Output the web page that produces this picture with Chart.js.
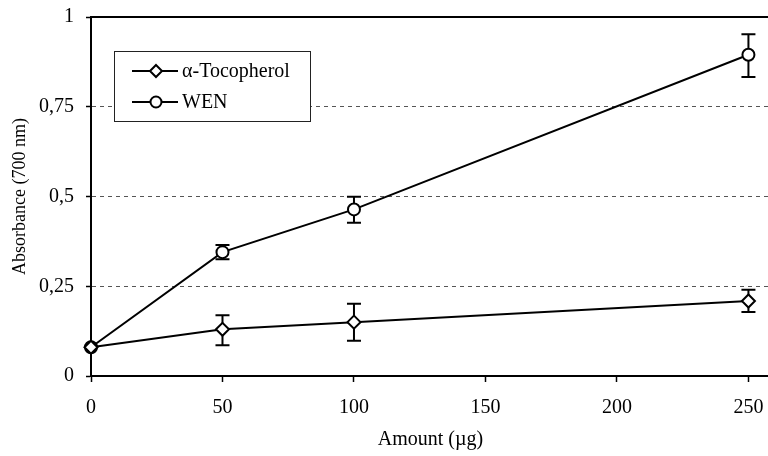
<!DOCTYPE html>
<html>
<head>
<meta charset="utf-8">
<script src="https://cdn.jsdelivr.net/npm/chart.js@4/dist/chart.umd.min.js"></script>
<style>
  body { margin: 0; background: #fff; overflow: hidden; }
  #wrap { width: 768px; height: 456px; overflow: hidden; }
</style>
</head>
<body>
<div id="wrap"><canvas id="myChart" width="790" height="456"></canvas></div>
<script>
// amounts in ug
var amounts = [0, 50, 100, 250];

var tocoMean = [0.08, 0.130, 0.150, 0.209];
var tocoLow  = [null, 0.086, 0.098, 0.178];
var tocoHigh = [null, 0.169, 0.201, 0.240];

var wenMean = [0.08, 0.345, 0.464, 0.895];
var wenLow  = [null, 0.325, 0.427, 0.833];
var wenHigh = [null, 0.365, 0.499, 0.952];

var xTicks = [0, 50, 100, 150, 200, 250];
var yTicks = [0, 0.25, 0.5, 0.75, 1];

var seriesNames = ['\u03b1-Tocopherol', 'WEN'];
var serif = 'Liberation Serif';

function toPoints(xs, ys, lo, hi) {
    var pts = [];
    for (var i in xs) {
        pts.push({ x: xs[i], y: ys[i], lo: lo[i], hi: hi[i] });
    }
    return pts;
}

// error bars, drawn under the markers
var errorBars = {
    id: 'errorBars',
    beforeDatasetsDraw: function(chart) {
        var ctx = chart.ctx;
        var xs = chart.scales.x, ys = chart.scales.y;
        ctx.save();
        ctx.strokeStyle = '#000';
        ctx.lineWidth = 2;
        chart.data.datasets.forEach(function(ds) {
            ds.data.forEach(function(p) {
                if (p.lo == null) return;
                var px = xs.getPixelForValue(p.x);
                var top = ys.getPixelForValue(p.hi);
                var bot = ys.getPixelForValue(p.lo);
                ctx.beginPath();
                ctx.moveTo(px, top); ctx.lineTo(px, bot);
                ctx.moveTo(px - 7, top); ctx.lineTo(px + 7, top);
                ctx.moveTo(px - 7, bot); ctx.lineTo(px + 7, bot);
                ctx.stroke();
            });
        });
        ctx.restore();
    }
};

// top/right frame and the boxed legend inside the plot
var frameAndLegend = {
    id: 'frameAndLegend',
    beforeDatasetsDraw: function(chart) {
        var ctx = chart.ctx;
        var a = chart.chartArea;
        ctx.save();
        ctx.strokeStyle = '#000';
        ctx.lineWidth = 2;
        ctx.beginPath();
        ctx.moveTo(a.left, a.top); ctx.lineTo(a.right, a.top); ctx.lineTo(a.right, a.bottom);
        ctx.stroke();
        ctx.restore();
    },
    afterDraw: function(chart) {
        var ctx = chart.ctx;
        ctx.save();
        // legend box
        ctx.fillStyle = '#fff';
        ctx.fillRect(114, 51, 197, 71);
        ctx.lineWidth = 1;
        ctx.strokeStyle = '#222';
        ctx.strokeRect(114.5, 51.5, 196, 70);

        var rows = [71, 102];
        chart.data.datasets.forEach(function(ds, i) {
            var y = rows[i];
            ctx.strokeStyle = '#000';
            ctx.lineWidth = 2;
            ctx.beginPath();
            ctx.moveTo(132, y); ctx.lineTo(178, y);
            ctx.stroke();
            ctx.fillStyle = '#fff';
            ctx.beginPath();
            if (ds.pointStyle === 'rectRot') {
                ctx.moveTo(156, y - 6); ctx.lineTo(162, y); ctx.lineTo(156, y + 6); ctx.lineTo(150, y);
                ctx.closePath();
            } else {
                ctx.arc(156, y, 5.5, 0, Math.PI * 2);
            }
            ctx.fill();
            ctx.stroke();
            ctx.fillStyle = '#000';
            ctx.font = '20px "' + serif + '"';
            ctx.textBaseline = 'middle';
            ctx.textAlign = 'left';
            ctx.fillText(ds.label, 182, y + 1);
        });
        ctx.restore();
    }
};

var chartdata = {
    datasets: [
        {
            label: seriesNames[0],
            data: toPoints(amounts, tocoMean, tocoLow, tocoHigh),
            borderColor: '#000',
            borderWidth: 2,
            backgroundColor: '#fff',
            pointStyle: 'rectRot',
            pointRadius: 6.5,
            pointBorderWidth: 2,
            pointBackgroundColor: '#fff',
            pointBorderColor: '#000',
            tension: 0,
            clip: false
        },
        {
            label: seriesNames[1],
            data: toPoints(amounts, wenMean, wenLow, wenHigh),
            borderColor: '#000',
            borderWidth: 2,
            backgroundColor: '#fff',
            pointStyle: 'circle',
            pointRadius: 6,
            pointBorderWidth: 2,
            pointBackgroundColor: '#fff',
            pointBorderColor: '#000',
            tension: 0,
            clip: false
        }
    ]
};

var ctx = document.getElementById('myChart');

var LineGraph = new Chart(ctx, {
    type: 'line',
    data: chartdata,
    plugins: [errorBars, frameAndLegend],
    options: {
        responsive: false,
        animation: false,
        devicePixelRatio: 1,
        // the plot runs past the right edge of the picture, as in the original
        layout: { padding: { top: 17, right: 20, left: 0, bottom: 0 } },
        plugins: {
            legend: { display: false },
            tooltip: { enabled: false }
        },
        scales: {
            x: {
                type: 'linear',
                min: 0,
                max: 258.2,
                afterBuildTicks: function(scale) {
                    scale.ticks = xTicks.map(function(v) { return { value: v }; });
                },
                afterFit: function(scale) {
                    scale.height = 80;
                    scale.paddingLeft = 0;
                    scale.paddingRight = 0;
                },
                ticks: {
                    color: '#000',
                    padding: 14,
                    font: { family: serif, size: 20 }
                },
                grid: {
                    display: true,
                    drawOnChartArea: false,
                    drawTicks: true,
                    tickLength: 6,
                    tickColor: '#000',
                    tickWidth: 1.5
                },
                border: { display: true, color: '#000', width: 2 },
                title: {
                    display: true,
                    text: 'Amount (\u00b5g)',
                    color: '#000',
                    font: { family: serif, size: 20 },
                    padding: { top: 0, bottom: 4 }
                }
            },
            y: {
                min: 0,
                max: 1,
                afterBuildTicks: function(scale) {
                    scale.ticks = yTicks.map(function(v) { return { value: v }; });
                },
                afterFit: function(scale) {
                    scale.width = 91;
                    scale.paddingTop = 0;
                    scale.paddingBottom = 0;
                },
                ticks: {
                    color: '#000',
                    padding: 12,
                    font: { family: serif, size: 20 },
                    callback: function(v) { return String(v).replace('.', ','); }
                },
                grid: {
                    color: function(c) {
                        if (c.tick && (c.tick.value === 0 || c.tick.value === 1)) return 'rgba(0,0,0,0)';
                        return '#555';
                    },
                    lineWidth: 1,
                    tickLength: 5,
                    tickColor: '#000',
                    tickWidth: 1.5
                },
                border: { display: true, color: '#000', width: 2, dash: [4, 4] },
                title: {
                    display: true,
                    text: 'Absorbance (700 nm)',
                    color: '#000',
                    font: { family: serif, size: 18 },
                    padding: { top: 9, bottom: 0 }
                }
            }
        }
    }
});
</script>
</body>
</html>
